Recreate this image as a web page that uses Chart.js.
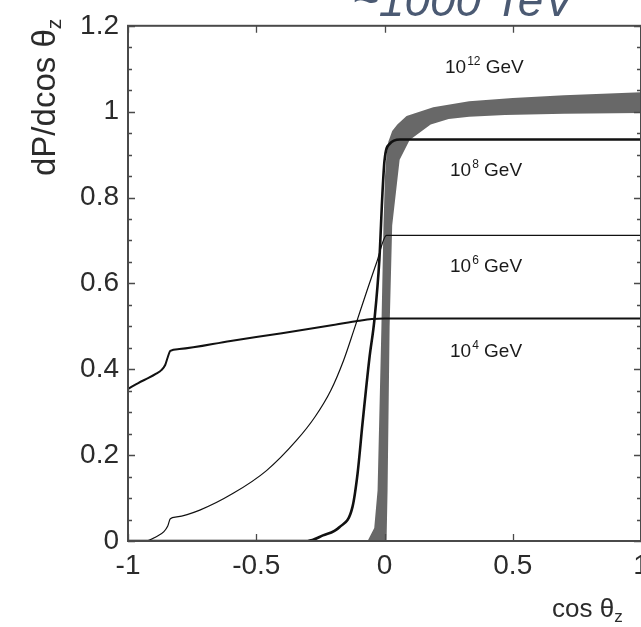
<!DOCTYPE html>
<html>
<head>
<meta charset="utf-8">
<script src="https://cdn.jsdelivr.net/npm/chart.js@4.4.0/dist/chart.umd.min.js"></script>
<style>
  html, body { margin: 0; padding: 0; background: #fff; overflow: hidden; }
  #wrap { width: 641px; height: 627px; overflow: hidden; }
</style>
</head>
<body>
<div id="wrap"><canvas id="chart" width="700" height="627"></canvas></div>
<script>
// axis ticks
const xTicks = [-1, -0.5, 0, 0.5, 1];
const xTickLabels = ['-1', '-0.5', '0', '0.5', '1'];
const yTicks = [0, 0.2, 0.4, 0.6, 0.8, 1, 1.2];
const yTickLabels = ['0', '0.2', '0.4', '0.6', '0.8', '1', '1.2'];

// 10^4 GeV
const e4X = [-1, -0.96, -0.92, -0.89, -0.87, -0.855, -0.845, -0.835, -0.8, -0.6, -0.4, -0.2, -0.1, -0.05, 0, 0.5, 1];
const e4Y = [0.354, 0.368, 0.38, 0.39, 0.398, 0.41, 0.428, 0.443, 0.447, 0.466, 0.484, 0.503, 0.513, 0.517, 0.518, 0.518, 0.518];

// 10^6 GeV
const e6X = [-1, -0.93, -0.89, -0.86, -0.845, -0.835, -0.81, -0.72, -0.59, -0.46, -0.345, -0.27, -0.21, -0.16, -0.12, -0.07, -0.03, 0.008, 0.5, 1];
const e6Y = [0, 0, 0.01, 0.022, 0.035, 0.052, 0.056, 0.072, 0.111, 0.164, 0.233, 0.29, 0.35, 0.42, 0.49, 0.58, 0.65, 0.712, 0.712, 0.712];

// 10^8 GeV
const e8X = [-1, -0.3, -0.24, -0.176, -0.125, -0.105, -0.086, -0.059, -0.039, -0.02, -0.008, 0, 0.02, 0.06, 0.5, 1];
const e8Y = [0, 0, 0.013, 0.032, 0.079, 0.157, 0.272, 0.425, 0.517, 0.655, 0.81, 0.886, 0.925, 0.935, 0.935, 0.935];

// 10^12 GeV band (upper/left edge and lower/right edge)
const bandTopX = [-0.066, -0.04, -0.027, -0.012, -0.004, 0.002, 0.008, 0.015, 0.03, 0.05, 0.086, 0.19, 0.33, 0.5, 0.7, 1];
const bandTopY = [0, 0.03, 0.118, 0.5, 0.735, 0.85, 0.9, 0.93, 0.955, 0.97, 0.99, 1.01, 1.024, 1.032, 1.038, 1.045];
const bandBotX = [-0.066, 0.008, 0.012, 0.02, 0.03, 0.059, 0.098, 0.18, 0.25, 0.33, 0.47, 0.7, 1];
const bandBotY = [0, 0, 0.118, 0.5, 0.735, 0.888, 0.934, 0.97, 0.983, 0.988, 0.992, 0.995, 0.997];

const energyExponents = ['12', '8', '6', '4'];
const title = '~1000 TeV';

const pts = (xs, ys) => xs.map((x, i) => ({ x: x, y: ys[i] }));

const lineStyle = (data, width) => ({
    data: data,
    borderColor: '#111',
    borderWidth: width,
    pointRadius: 0,
    cubicInterpolationMode: 'monotone',
    fill: false,
    order: 0
});

const frameColor = '#4a4a4a';
const font = '"Liberation Sans", Arial, sans-serif';

const decorations = {
    id: 'decorations',
    afterDatasetsDraw(chart) {
        const { ctx, chartArea: a, scales: { x, y } } = chart;
        ctx.save();
        ctx.strokeStyle = frameColor;
        ctx.lineWidth = 1.3;
        ctx.beginPath();
        // y ticks, minor every 0.05 on both sides
        for (let i = 0; i <= 24; i++) {
            const py = Math.round(y.getPixelForValue(i * 0.05)) + 0.5;
            const len = i % 4 === 0 ? 7 : 4;
            ctx.moveTo(a.left, py); ctx.lineTo(a.left + len, py);
            ctx.moveTo(a.right, py); ctx.lineTo(a.right - len, py);
        }
        xTicks.forEach(v => {
            const px = Math.round(x.getPixelForValue(v)) + 0.5;
            ctx.moveTo(px, a.bottom); ctx.lineTo(px, a.bottom - 7);
            ctx.moveTo(px, a.top); ctx.lineTo(px, a.top + 7);
        });
        ctx.stroke();
        ctx.lineWidth = 2;
        ctx.strokeRect(a.left, a.top, a.right - a.left, a.bottom - a.top);

        // energy labels
        ctx.fillStyle = '#1a1a1a';
        ctx.textBaseline = 'alphabetic';
        const baselines = [73, 176, 272, 357];
        const lefts = [445, 450, 450, 450];
        energyExponents.forEach((e, i) => {
            let px = lefts[i];
            ctx.font = '19px ' + font;
            ctx.fillText('10', px, baselines[i]);
            px += ctx.measureText('10').width + 1;
            ctx.font = '12px ' + font;
            ctx.fillText(e, px, baselines[i] - 8);
            px += ctx.measureText(e).width;
            ctx.font = '19px ' + font;
            ctx.fillText(' GeV', px, baselines[i]);
        });

        // x axis title
        ctx.fillStyle = '#2b2b2b';
        ctx.font = '26px ' + font;
        ctx.fillText('cos θ', 552, 617);
        let w = ctx.measureText('cos θ').width;
        ctx.font = '17px ' + font;
        ctx.fillText('z', 552 + w, 622);

        // y axis title
        ctx.save();
        ctx.translate(55, 176);
        ctx.rotate(-Math.PI / 2);
        ctx.font = '33px ' + font;
        ctx.fillText('dP/dcos θ', 0, 0);
        w = ctx.measureText('dP/dcos θ').width;
        ctx.font = '21px ' + font;
        ctx.fillText('z', w, 6);
        ctx.restore();

        // cut-off title at the top
        ctx.fillStyle = '#4b5a73';
        ctx.font = 'italic 46px ' + font;
        ctx.fillText(title, 352, 16);
        ctx.restore();
    }
};

new Chart(document.getElementById('chart'), {
    type: 'line',
    data: {
        datasets: [
            lineStyle(pts(e4X, e4Y), 2),
            lineStyle(pts(e6X, e6Y), 1.2),
            lineStyle(pts(e8X, e8Y), 2.6),
            {
                data: pts(bandTopX, bandTopY),
                borderWidth: 0,
                borderColor: 'rgba(0,0,0,0)',
                backgroundColor: '#686868',
                pointRadius: 0,
                tension: 0,
                fill: '+1',
                order: 5
            },
            {
                data: pts(bandBotX, bandBotY),
                borderWidth: 0,
                borderColor: 'rgba(0,0,0,0)',
                pointRadius: 0,
                tension: 0,
                fill: false,
                order: 6
            }
        ]
    },
    options: {
        responsive: false,
        animation: false,
        events: [],
        layout: { padding: { left: 0, right: 59, top: 21, bottom: 0 } },
        plugins: { legend: { display: false }, tooltip: { enabled: false } },
        scales: {
            x: {
                type: 'linear',
                min: -1,
                max: 1,
                grid: { display: false, drawTicks: false },
                border: { display: false },
                afterBuildTicks: s => { s.ticks = xTicks.map(v => ({ value: v })); },
                afterFit: s => { s.height = 86; },
                ticks: {
                    padding: 8,
                    maxRotation: 0,
                    autoSkip: false,
                    color: '#2b2b2b',
                    font: { family: font, size: 28 },
                    callback: (v, i) => xTickLabels[i]
                }
            },
            y: {
                min: 0,
                max: 1.2,
                grid: { display: false, drawTicks: false },
                border: { display: false },
                afterBuildTicks: s => { s.ticks = yTicks.map(v => ({ value: v })); },
                afterFit: s => { s.width = 128; },
                ticks: {
                    padding: 9,
                    autoSkip: false,
                    color: '#2b2b2b',
                    font: { family: font, size: 28 },
                    callback: (v, i) => yTickLabels[i]
                }
            }
        }
    },
    plugins: [decorations]
});
</script>
</body>
</html>
